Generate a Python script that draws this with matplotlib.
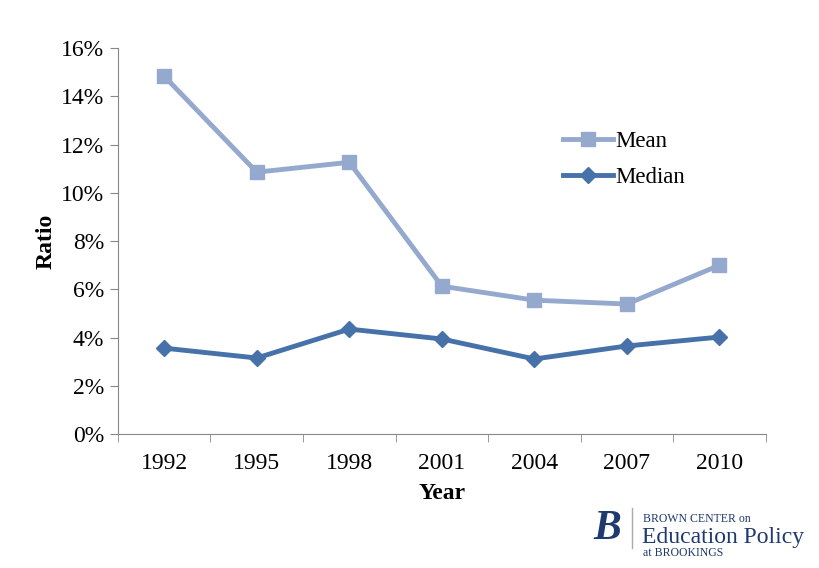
import matplotlib
matplotlib.use("Agg")
import matplotlib.pyplot as plt
from matplotlib.ticker import FuncFormatter, FixedLocator

years = ["1992", "1995", "1998", "2001", "2004", "2007", "2010"]
mean_vals = [14.84, 10.86, 11.27, 6.13, 5.55, 5.39, 7.0]
median_vals = [3.56, 3.15, 4.35, 3.94, 3.11, 3.65, 4.02]

plt.rcParams['font.family'] = ['Liberation Serif', 'DejaVu Serif']

fig = plt.figure(figsize=(8.19, 5.68), dpi=100)
ax = fig.add_axes([0.144, 0.236, 0.791, 0.679])

x = list(range(len(years)))
ax.plot(x, mean_vals, color='#95A9CF', lw=3.5, marker='s', ms=10, label='Mean')
ax.plot(x, median_vals, color='#4672A9', lw=3.5, marker='D', ms=8, label='Median')

ax.set_xlim(-0.5, 6.5)
ax.set_ylim(0, 16)
ax.set_yticks(range(0, 17, 2))
ax.yaxis.set_major_formatter(FuncFormatter(lambda v, p: f"{int(v)}%"))
ax.set_xticks(x)
ax.set_xticklabels(years)
ax.xaxis.set_minor_locator(FixedLocator([i - 0.5 for i in range(8)]))
ax.tick_params(axis='x', which='major', length=0, pad=14, labelsize=17)
ax.tick_params(axis='x', which='minor', length=6, color='#888888', direction='out')
ax.tick_params(axis='y', length=6, color='#888888', labelsize=17, pad=4)

for s in ['top', 'right']:
    ax.spines[s].set_visible(False)
for s in ['left', 'bottom']:
    ax.spines[s].set_color('#888888')

ax.set_xlabel('Year', fontsize=17, fontweight='bold', labelpad=6)
ax.set_ylabel('Ratio', fontsize=17, fontweight='bold', labelpad=3)

leg = ax.legend(loc='upper left', bbox_to_anchor=(0.655, 0.84), frameon=False,
                fontsize=16.5, handlelength=2.2, handletextpad=0.1, labelspacing=0.65)

# Logo
fig.text(0.742, 0.068, 'B', fontsize=30, fontweight='bold', color='#1F3A6E',
         fontstyle='italic', ha='center', va='center')
fig.add_artist(plt.Line2D([0.772, 0.772], [0.035, 0.105], color='#AAAAAA', lw=1,
                          transform=fig.transFigure))
fig.text(0.785, 0.086, 'BROWN CENTER on', fontsize=8.5, color='#1F3A6E', va='center')
fig.text(0.784, 0.054, 'Education Policy', fontsize=17, color='#1F3A6E', va='center')
fig.text(0.785, 0.026, 'at BROOKINGS', fontsize=8.5, color='#1F3A6E', va='center')

fig.savefig('out.png', dpi=100)
